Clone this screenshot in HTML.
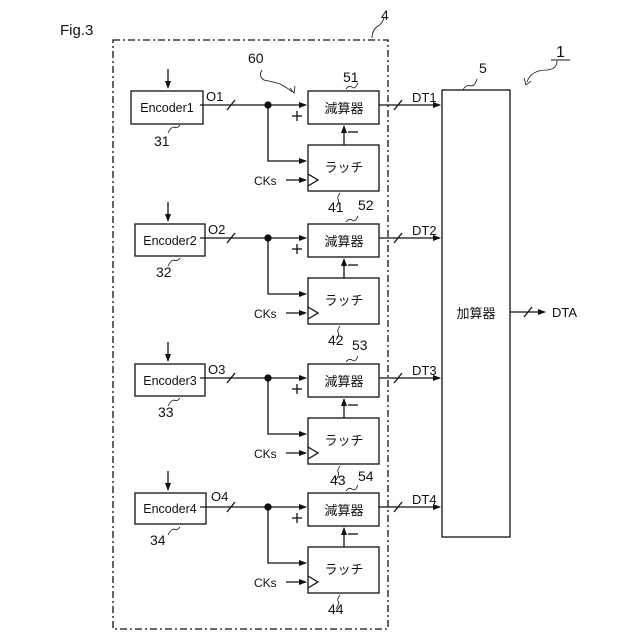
<!DOCTYPE html>
<html><head><meta charset="utf-8"><style>body{margin:0;background:#fff}svg{display:block}text{font-family:"Liberation Sans","Noto Sans CJK JP",sans-serif;fill:#111}</style></head><body>
<svg width="640" height="640" viewBox="0 0 640 640" xmlns="http://www.w3.org/2000/svg">
<defs>
<marker id="a" markerWidth="8" markerHeight="6" refX="7" refY="3" orient="auto" markerUnits="userSpaceOnUse"><path d="M0,0L8,3L0,6z" fill="#111"/></marker>
<g id="row" stroke="#111" stroke-width="1.3" fill="none">
<rect x="308" y="0" width="71" height="33"/>
<rect x="308" y="54" width="71" height="46"/>
<line x1="200" y1="14" x2="306" y2="14" marker-end="url(#a)"/>
<line x1="227" y1="19" x2="235" y2="9"/>
<circle cx="268" cy="14" r="3" fill="#111"/>
<polyline points="268,14 268,70 306,70" marker-end="url(#a)"/>
<line x1="344" y1="54" x2="344" y2="35" marker-end="url(#a)"/>
<line x1="286" y1="89" x2="306" y2="89" marker-end="url(#a)"/>
<path d="M308,83 L318,89 L308,95"/>
<line x1="379" y1="14" x2="440" y2="14" marker-end="url(#a)"/>
<line x1="394" y1="19" x2="402" y2="9"/>
<line x1="168" y1="-22" x2="168" y2="-3" marker-end="url(#a)"/>
<path d="M346,-2 q3,-4 6,-2 q3,3 6,-4" stroke-width="0.8"/>
<path d="M340,102 q-3,4 -2,6 q2,2 -2,8" stroke-width="0.8"/>
<path d="M180,34 q-3,4 -6,2 q-3,0 -6,6" stroke-width="0.8"/>
<line x1="292" y1="25" x2="302" y2="25"/><line x1="297" y1="20" x2="297" y2="30"/>
<line x1="348" y1="41" x2="358" y2="41"/>
</g>
</defs>
<text x="60" y="35" font-size="15">Fig.3</text>
<rect x="113" y="40" width="275" height="589" fill="none" stroke="#111" stroke-width="1.3" stroke-dasharray="7,3,2,3"/>
<path d="M372,38 q0,-8 6,-12 q4,-2 6,-8" stroke="#111" fill="none" stroke-width="0.8"/>
<text x="381" y="20" font-size="14">4</text>
<text x="248" y="63" font-size="14">60</text>
<path d="M262,70 q-4,6 2,10 q10,2 16,4 q8,4 12,8" stroke="#111" fill="none" stroke-width="0.8"/>
<path d="M290,88 l4,5 l1,-7" stroke="#111" fill="none" stroke-width="0.8"/>
<rect x="442" y="90" width="68" height="447" fill="none" stroke="#111" stroke-width="1.3"/>
<text x="479" y="73" font-size="14">5</text>
<path d="M463,90 q3,-6 8,-4 q4,0 6,-7" stroke="#111" fill="none" stroke-width="0.8"/>
<text x="556" y="57" font-size="16">1</text>
<line x1="551" y1="60" x2="570" y2="60" stroke="#111"/>
<path d="M557,61 q0,8 -10,9 q-16,0 -20,12" stroke="#111" fill="none" stroke-width="0.8"/>
<path d="M524,78 l2,7 l5,-4" stroke="#111" fill="none" stroke-width="0.8"/>
<text x="476" y="318" font-size="13" text-anchor="middle">加算器</text>
<line x1="510" y1="312" x2="545" y2="312" stroke="#111" stroke-width="1.3" marker-end="url(#a)"/>
<line x1="524" y1="317" x2="532" y2="307" stroke="#111" stroke-width="1.3"/>
<text x="552" y="317" font-size="13">DTA</text>

<g transform="translate(0,91)"><use href="#row"/><rect x="131" y="0" width="72" height="33" fill="none" stroke="#111" stroke-width="1.3"/>
<text x="167" y="21" font-size="12.5" text-anchor="middle">Encoder1</text><text x="206" y="10" font-size="13">O1</text>
<text x="154" y="55" font-size="14">31</text><text x="343" y="-9" font-size="14">51</text><text x="328" y="121" font-size="14">41</text>
<text x="344" y="22" font-size="13" text-anchor="middle">減算器</text><text x="344" y="81" font-size="13" text-anchor="middle">ラッチ</text>
<text x="254" y="94" font-size="12">CKs</text><text x="412" y="11" font-size="13">DT1</text></g>

<g transform="translate(0,224)"><use href="#row"/><rect x="135" y="0" width="70" height="32" fill="none" stroke="#111" stroke-width="1.3"/>
<text x="170" y="21" font-size="12.5" text-anchor="middle">Encoder2</text><text x="208" y="10" font-size="13">O2</text>
<text x="156" y="53" font-size="14">32</text><text x="358" y="-14" font-size="14">52</text><text x="328" y="121" font-size="14">42</text>
<text x="344" y="22" font-size="13" text-anchor="middle">減算器</text><text x="344" y="81" font-size="13" text-anchor="middle">ラッチ</text>
<text x="254" y="94" font-size="12">CKs</text><text x="412" y="11" font-size="13">DT2</text></g>

<g transform="translate(0,364)"><use href="#row"/><rect x="135" y="0" width="70" height="32" fill="none" stroke="#111" stroke-width="1.3"/>
<text x="170" y="21" font-size="12.5" text-anchor="middle">Encoder3</text><text x="208" y="10" font-size="13">O3</text>
<text x="158" y="53" font-size="14">33</text><text x="352" y="-14" font-size="14">53</text><text x="330" y="121" font-size="14">43</text>
<text x="344" y="22" font-size="13" text-anchor="middle">減算器</text><text x="344" y="81" font-size="13" text-anchor="middle">ラッチ</text>
<text x="254" y="94" font-size="12">CKs</text><text x="412" y="11" font-size="13">DT3</text></g>

<g transform="translate(0,493)"><use href="#row"/><rect x="135" y="0" width="71" height="31" fill="none" stroke="#111" stroke-width="1.3"/>
<text x="170" y="20" font-size="12.5" text-anchor="middle">Encoder4</text><text x="211" y="8" font-size="13">O4</text>
<text x="150" y="52" font-size="14">34</text><text x="358" y="-12" font-size="14">54</text><text x="328" y="121" font-size="14">44</text>
<text x="344" y="22" font-size="13" text-anchor="middle">減算器</text><text x="344" y="81" font-size="13" text-anchor="middle">ラッチ</text>
<text x="254" y="94" font-size="12">CKs</text><text x="412" y="11" font-size="13">DT4</text></g>
</svg>
</body></html>
